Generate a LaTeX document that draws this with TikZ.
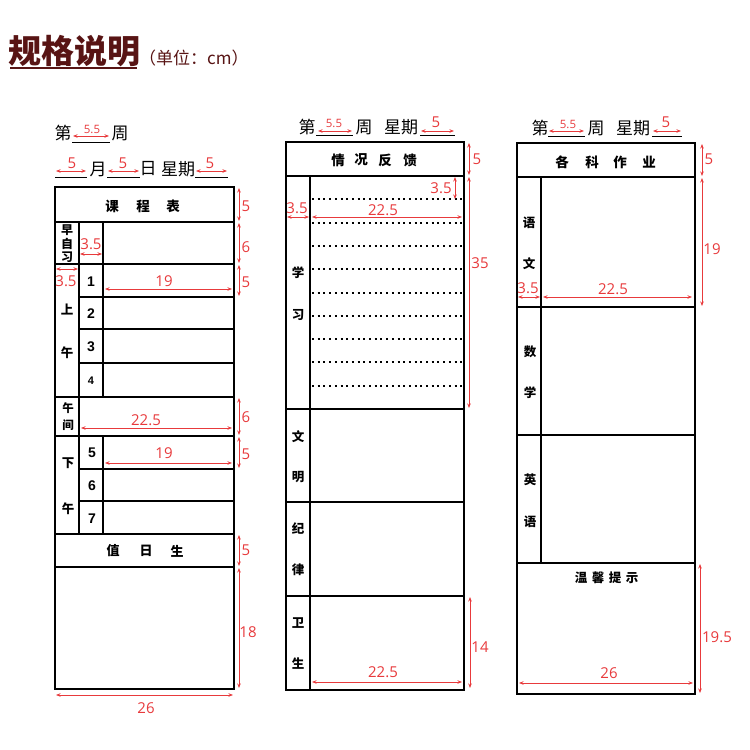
\documentclass[tikz,border=0pt]{standalone}
\usepackage{fontspec}
\usetikzlibrary{arrows.meta}
\newfontfamily\cjk{Noto Sans CJK SC}
\newfontfamily\dimfont{Open Sans}
\newfontfamily\numfont{Liberation Sans}
\definecolor{dimred}{RGB}{232,58,60}
\definecolor{titlec}{RGB}{88,20,20}
\tikzset{
  outer/.style={line width=1.9pt, black},
  inner/.style={line width=1.5pt, black},
  dotline/.style={line width=2pt, dash pattern=on 2pt off 3.7pt},
  dim/.style={dimred, line width=0.8pt, {Stealth[length=4.5pt,width=3.5pt]}-{Stealth[length=4.5pt,width=3.5pt]}},
  dimlab/.style={text=dimred, font=\dimfont\fontsize{15}{15}\selectfont, inner sep=0pt},
  dimsmall/.style={text=dimred, font=\dimfont\fontsize{11.5}{11.5}\selectfont, inner sep=0pt},
  lab/.style={font=\cjk\bfseries\fontsize{12.5}{12.5}\selectfont, inner sep=0pt},
  hdr/.style={font=\cjk\bfseries\fontsize{13.5}{13.5}\selectfont, inner sep=0pt},
  num/.style={font=\numfont\bfseries\fontsize{14}{14}\selectfont, inner sep=0pt},
  toptxt/.style={font=\cjk\fontsize{17}{17}\selectfont, inner sep=0pt},
  uline/.style={line width=1pt, black},
}
\begin{document}
\begin{tikzpicture}[x=1pt,y=-1pt]
\useasboundingbox[fill=white] (0,0) rectangle (750,750);

% ---------- title ----------
\node[anchor=west, text=titlec, font=\cjk\bfseries\fontsize{33}{33}\selectfont, inner sep=0pt] (title) at (8,51) {规格说明};
\draw[titlec, line width=1.5pt] (10,68) -- (137,68);
\node[anchor=west, text=titlec, font=\cjk\fontsize{17}{17}\selectfont, inner sep=0pt] (unit) at (139,58) {（单位：cm）};

% ================= LEFT TABLE =================
\node[toptxt] (l1a) at (63,133) {第};
\draw[uline] (72,142) -- (110,142);
\draw[dim] (73,136) -- (109,136);
\node[dimsmall] (l1d) at (92,129) {5.5};
\node[toptxt] (l1b) at (120,133) {周};

\draw[uline] (55,177) -- (87,177);
\draw[dim] (56,171) -- (86,171);
\node[dimlab] (l2d1) at (72,163) {5};
\node[toptxt] (l2a) at (98,169) {月};
\draw[uline] (107,177) -- (140,177);
\draw[dim] (108,171) -- (139,171);
\node[dimlab] (l2d2) at (123,163) {5};
\node[toptxt] (l2b) at (148,169) {日};
\node[toptxt] (l2c) at (178,169) {星期};
\draw[uline] (195,177) -- (228,177);
\draw[dim] (196,171) -- (227,171);
\node[dimlab] (l2d3) at (210,163) {5};

% frame
\draw[outer] (55,187) rectangle (234,689);
\foreach \y in {222,264,397,436,534,567} \draw[inner] (55,\y) -- (234,\y);
\draw[inner] (79,222) -- (79,534);
\draw[inner] (103,222) -- (103,397);
\draw[inner] (103,436) -- (103,534);
\foreach \y in {297,329,363,469,501} \draw[inner] (79,\y) -- (234,\y);

% texts
\node[hdr] (kc1) at (112,206) {课};
\node[hdr] (kc2) at (143,206) {程};
\node[hdr] (kc3) at (173,206) {表};
\node[lab, font=\cjk\bfseries\fontsize{12}{12}\selectfont] (zz1) at (67,230) {早};
\node[lab, font=\cjk\bfseries\fontsize{12}{12}\selectfont] (zz2) at (67,244) {自};
\node[lab, font=\cjk\bfseries\fontsize{12}{12}\selectfont] (zz3) at (67,257) {习};
\node[lab] (sw1) at (67,310) {上};
\node[lab] (sw2) at (67,353) {午};
\node[num] (n1) at (91,282) {1};
\node[num] (n2) at (91,314) {2};
\node[num] (n3) at (91,347) {3};
\node[num, font=\numfont\bfseries\fontsize{11}{11}\selectfont] (n4) at (91,381) {4};
\node[lab, font=\cjk\bfseries\fontsize{11.5}{11.5}\selectfont] (wj1) at (68,408) {午};
\node[lab, font=\cjk\bfseries\fontsize{11.5}{11.5}\selectfont] (wj2) at (68,425) {间};
\node[lab] (xw1) at (68,463) {下};
\node[lab] (xw2) at (68,509) {午};
\node[num] (n5) at (92,453) {5};
\node[num] (n6) at (92,486) {6};
\node[num] (n7) at (92,519) {7};
\node[hdr, font=\cjk\bfseries\fontsize{13}{13}\selectfont] (zr1) at (113,551) {值};
\node[hdr, font=\cjk\bfseries\fontsize{13}{13}\selectfont] (zr2) at (146,551) {日};
\node[hdr, font=\cjk\bfseries\fontsize{13}{13}\selectfont] (zr3) at (177,551) {生};

% dims
\draw[dim] (80,254) -- (102,254);
\node[dimlab] (ld1) at (91,244) {3.5};
\draw[dim] (56,269) -- (78,269);
\node[dimlab] (ld2) at (66,281) {3.5};
\draw[dim] (105,289) -- (232,289);
\node[dimlab] (ld3) at (164,281) {19};
\draw[dim] (81,428) -- (232,428);
\node[dimlab] (ld4) at (146,420) {22.5};
\draw[dim] (105,463) -- (232,463);
\node[dimlab] (ld5) at (164,453) {19};
\draw[dim] (56,695) -- (233,695);
\node[dimlab] (ld6) at (146,708) {26};

\draw[dim] (239,188) -- (239,221);
\node[dimlab] (lv1) at (246,206) {5};
\draw[dim] (239,223) -- (239,263);
\node[dimlab] (lv2) at (246,247) {6};
\draw[dim] (239,265) -- (239,296);
\node[dimlab] (lv3) at (246,282) {5};
\draw[dim] (239,398) -- (239,435);
\node[dimlab] (lv4) at (246,417) {6};
\draw[dim] (239,437) -- (239,468);
\node[dimlab] (lv5) at (246,454) {5};
\draw[dim] (239,535) -- (239,566);
\node[dimlab] (lv6) at (246,550) {5};
\draw[dim] (239,568) -- (239,688);
\node[dimlab] (lv7) at (248,632) {18};

% ================= MIDDLE TABLE =================
\node[toptxt] (m1a) at (307,127) {第};
\draw[uline] (316,135) -- (353,135);
\draw[dim] (318,131) -- (352,131);
\node[dimsmall] (m1d) at (334,123) {5.5};
\node[toptxt] (m1b) at (364,127) {周};
\node[toptxt] (m1c) at (401,127) {星期};
\draw[uline] (420,135) -- (455,135);
\draw[dim] (421,131) -- (454,131);
\node[dimlab] (m1e) at (436,122) {5};

\draw[outer] (286,142) rectangle (464,690);
\foreach \y in {176,409,502,596} \draw[inner] (286,\y) -- (464,\y);
\draw[inner] (310,176) -- (310,690);
\foreach \k in {1,...,9} \draw[dotline] (312,{176+23.3*\k}) -- (463,{176+23.3*\k});

\node[hdr] (q1) at (338,160) {情};
\node[hdr] (q2) at (361,160) {况};
\node[hdr] (q3) at (385,160) {反};
\node[hdr] (q4) at (410,160) {馈};
\node[lab] (xx1) at (298,273) {学};
\node[lab] (xx2) at (298,315) {习};
\node[lab] (wm1) at (298,437) {文};
\node[lab] (wm2) at (298,477) {明};
\node[lab] (jl1) at (298,529) {纪};
\node[lab] (jl2) at (298,570) {律};
\node[lab] (ws1) at (298,623) {卫};
\node[lab] (ws2) at (298,664) {生};

\draw[dim] (455,177) -- (455,199);
\node[dimlab] (md1) at (441,188) {3.5};
\draw[dim] (287,217) -- (309,217);
\node[dimlab] (md2) at (297,208) {3.5};
\draw[dim] (312,217) -- (462,217);
\node[dimlab] (md3) at (383,210) {22.5};
\draw[dim] (312,682) -- (462,682);
\node[dimlab] (md4) at (383,672) {22.5};
\draw[dim] (469,143) -- (469,175);
\node[dimlab] (mv1) at (477,159) {5};
\draw[dim] (469,177) -- (469,408);
\node[dimlab] (mv2) at (480,263) {35};
\draw[dim] (470,597) -- (470,688);
\node[dimlab] (mv3) at (480,647) {14};

% ================= RIGHT TABLE =================
\node[toptxt] (r1a) at (540,128) {第};
\draw[uline] (548,136) -- (585,136);
\draw[dim] (549,131) -- (584,131);
\node[dimsmall] (r1d) at (568,124) {5.5};
\node[toptxt] (r1b) at (596,128) {周};
\node[toptxt] (r1c) at (633,128) {星期};
\draw[uline] (652,136) -- (682,136);
\draw[dim] (653,131) -- (681,131);
\node[dimlab] (r1e) at (666,122) {5};

\draw[outer] (517,143) rectangle (695,694);
\foreach \y in {177,307,435,563} \draw[inner] (517,\y) -- (695,\y);
\draw[inner] (541,177) -- (541,563);

\node[hdr] (g1) at (562,162) {各};
\node[hdr] (g2) at (592,162) {科};
\node[hdr] (g3) at (620,162) {作};
\node[hdr] (g4) at (649,162) {业};
\node[lab] (yw1) at (529,223) {语};
\node[lab] (yw2) at (529,264) {文};
\node[lab] (sx1) at (530,352) {数};
\node[lab] (sx2) at (530,393) {学};
\node[lab] (yy1) at (530,480) {英};
\node[lab] (yy2) at (530,522) {语};
\node[lab] (wx1) at (581,578) {温};
\node[lab] (wx2) at (598,578) {馨};
\node[lab] (wx3) at (615,578) {提};
\node[lab] (wx4) at (632,578) {示};

\draw[dim] (518,297) -- (540,297);
\node[dimlab] (rd1) at (528,288) {3.5};
\draw[dim] (543,297) -- (692,297);
\node[dimlab] (rd2) at (613,289) {22.5};
\draw[dim] (519,683) -- (693,683);
\node[dimlab] (rd3) at (609,673) {26};
\draw[dim] (702,144) -- (702,176);
\node[dimlab] (rv1) at (709,159) {5};
\draw[dim] (702,178) -- (702,306);
\node[dimlab] (rv2) at (712,249) {19};
\draw[dim] (700,564) -- (700,693);
\node[dimlab] (rv3) at (717,637) {19.5};
\end{tikzpicture}
\end{document}
